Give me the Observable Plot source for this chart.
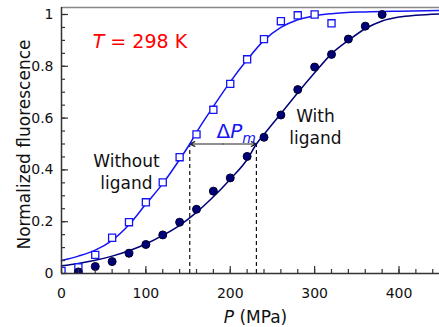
<!DOCTYPE html>
<html><head><meta charset="utf-8">
<script src="https://cdn.jsdelivr.net/npm/d3@7"></script>
<script src="https://cdn.jsdelivr.net/npm/@observablehq/plot@0.6"></script>
<style>
html,body{margin:0;padding:0;background:#fff;}
#chart svg{display:block;}
</style></head><body><div id="chart"></div>
<script>
// ---- data ----
const pressureNoLigand = [0,20,40,60,80,100,120,140,160,180,200,220,240,260,280,300,320];
const fluorNoLigand    = [0.01,0.024,0.072,0.138,0.198,0.275,0.352,0.449,0.537,0.632,0.732,0.827,0.905,0.974,0.997,1.0,0.966];
const pressureLigand   = [20,40,60,80,100,120,140,160,180,200,220,240,260,280,300,320,340,360,380];
const fluorLigand      = [0.006,0.027,0.046,0.078,0.112,0.149,0.198,0.248,0.318,0.369,0.452,0.526,0.612,0.71,0.797,0.846,0.905,0.955,1.0];
// fitted curves
const fitPressureNoLigand = [0,20,40,60,80,100,120,140,152,160,180,200,220,240,260,280,300,320,360,400,448];
const fitNoLigand         = [0.05,0.067,0.09,0.128,0.188,0.268,0.347,0.44,0.5,0.545,0.645,0.74,0.825,0.9,0.95,0.98,0.995,1.003,1.01,1.013,1.015];
const fitPressureLigand   = [0,20,40,60,80,100,120,140,160,180,200,220,231,240,260,280,300,320,340,360,380,400,420,448];
const fitLigand           = [0.03,0.039,0.051,0.067,0.088,0.114,0.147,0.186,0.236,0.296,0.364,0.44,0.5,0.537,0.617,0.698,0.775,0.848,0.9,0.945,0.975,0.99,0.997,1.002];
const midpointPressures = [152, 231];   // P_m without / with ligand
const midpointLevel = 0.5;
// ticks
const xTickLabels = [0,100,200,300,400];
const xMinorTicks = [0,20,40,60,80,100,120,140,160,180,200,220,240,260,280,300,320,340,360,380,400,420,440];
const yTickLabels = [0,0.2,0.4,0.6,0.8,1];
const yMinorTicks = [0,0.05,0.1,0.15,0.2,0.25,0.3,0.35,0.4,0.45,0.5,0.55,0.6,0.65,0.7,0.75,0.8,0.85,0.9,0.95,1];
const xDomain = [0, 448];
const yDomain = [0, 1.027];

// ---- layout ----
const W = 439, H = 327, ML = 61, MR = 0, MT = 7, MB = 54;
const pxX = (W - ML - MR) / (xDomain[1] - xDomain[0]);  // pixels per MPa
const pxY = (H - MT - MB) / (yDomain[1] - yDomain[0]);  // pixels per unit

// ---- tables ----
const noLig = pressureNoLigand.map((p, i) => ({p, f: fluorNoLigand[i]}));
const lig = pressureLigand.map((p, i) => ({p, f: fluorLigand[i]}));
const fitNo = fitPressureNoLigand.map((p, i) => ({p, f: fitNoLigand[i]}));
const fitLig = fitPressureLigand.map((p, i) => ({p, f: fitLigand[i]}));
const pmMid = (midpointPressures[0] + midpointPressures[1]) / 2;
const deltaArrows = midpointPressures.map(p => ({x1: pmMid, x2: p}));

const BLUE = "#1414f5", NAVY = "#000078", AXIS = "#333";
const FONT = "DejaVu Sans";

const chart = Plot.plot({
  width: W, height: H,
  marginLeft: ML, marginRight: MR, marginTop: MT, marginBottom: MB,
  style: {fontFamily: FONT, fontSize: "14px", color: "#111", background: "#fff", overflow: "visible"},
  x: {domain: xDomain},
  y: {domain: yDomain},
  marks: [
    // dashed guides and arrow
    Plot.ruleX(midpointPressures, {x: d => d, y1: 0, y2: midpointLevel, stroke: "#111", strokeWidth: 1.2, strokeDasharray: "4,3"}),
    Plot.arrow(deltaArrows, {x1: "x1", x2: "x2", y1: midpointLevel, y2: midpointLevel,
      stroke: "#222", strokeWidth: 1.2, headLength: 7, headAngle: 50}),
    // fits
    Plot.line(fitNo, {x: "p", y: "f", stroke: BLUE, strokeWidth: 1.5, curve: "monotone-x"}),
    Plot.line(fitLig, {x: "p", y: "f", stroke: NAVY, strokeWidth: 1.5, curve: "monotone-x"}),
    // data
    Plot.dot(noLig, {x: "p", y: "f", symbol: "square", r: 4, stroke: BLUE, fill: "white", strokeWidth: 1.3, clip: true}),
    Plot.dot(lig, {x: "p", y: "f", r: 4, fill: NAVY, stroke: "#00002a", strokeWidth: 1, clip: true}),
    // frame lines
    Plot.ruleY([yDomain[1]], {stroke: "#888", strokeWidth: 1.5}),
    Plot.ruleY([0], {stroke: AXIS, strokeWidth: 1.5}),
    Plot.ruleX([0], {stroke: AXIS, strokeWidth: 1.5}),
    // inward tick marks (4 px minor, 7 px major)
    Plot.ruleX(xMinorTicks, {x: d => d, y1: 0, y2: 4 / pxY, stroke: AXIS, strokeWidth: 1.2}),
    Plot.ruleX(xTickLabels, {x: d => d, y1: 0, y2: 7 / pxY, stroke: AXIS, strokeWidth: 1.2}),
    Plot.ruleY(yMinorTicks, {y: d => d, x1: 0, x2: 4 / pxX, stroke: AXIS, strokeWidth: 1.2}),
    Plot.ruleY(yTickLabels, {y: d => d, x1: 0, x2: 7 / pxX, stroke: AXIS, strokeWidth: 1.2}),
    // tick labels
    Plot.axisX({ticks: xTickLabels, tickSize: 0, tickPadding: 15, label: null, fill: "#111", fontSize: 14}),
    Plot.axisY({ticks: yTickLabels, tickSize: 0, tickPadding: 8, tickFormat: d => String(d), label: null, fill: "#111", fontSize: 14}),
    // axis titles
    Plot.text(["Normalized fluorescence"], {frameAnchor: "left", textAnchor: "middle", lineAnchor: "middle", text: d => d, rotate: -90, dx: -37, dy: 4, fontSize: 17, fill: "#111"}),
    Plot.text(["P (MPa)"], {frameAnchor: "bottom", textAnchor: "middle", lineAnchor: "middle", text: d => d, dx: 5, dy: 44, fontSize: 17, fill: "#111"}),
    // annotations
    Plot.text(["T = 298 K"], {x: 37, y: 0.893, text: d => d, textAnchor: "start", fontSize: 19, fill: "red"}),
    Plot.text(["Without\nligand"], {x: 77, y: 0.396, text: d => d, fontSize: 17, lineHeight: 1.3, fill: "#111"}),
    Plot.text(["With\nligand"], {x: 301, y: 0.569, text: d => d, fontSize: 17, lineHeight: 1.3, fill: "#111"}),
    Plot.text(["ΔPm"], {x: 207, y: 0.548, text: d => d, fontSize: 20, fill: BLUE})
  ]
});

// rich text: italic symbols and subscript
const NS = "http://www.w3.org/2000/svg";
function span(txt, attrs) {
  const t = document.createElementNS(NS, "tspan");
  t.textContent = txt;
  for (const k in attrs) t.setAttribute(k, attrs[k]);
  return t;
}
chart.querySelectorAll("text").forEach(el => {
  const s = el.textContent;
  if (s === "T = 298 K") {
    el.textContent = "";
    el.append(span("T", {"font-style": "italic"}), span(" = 298 K", {}));
  } else if (s === "P (MPa)") {
    el.textContent = "";
    el.append(span("P", {"font-style": "italic"}), span(" (MPa)", {}));
  } else if (s === "ΔPm") {
    el.textContent = "";
    el.append(span("Δ", {}), span("P", {"font-style": "italic"}),
              span("m", {"font-style": "italic", "font-size": "70%", "dy": "0.35em"}));
  }
});
document.getElementById("chart").append(chart);
</script></body></html>
